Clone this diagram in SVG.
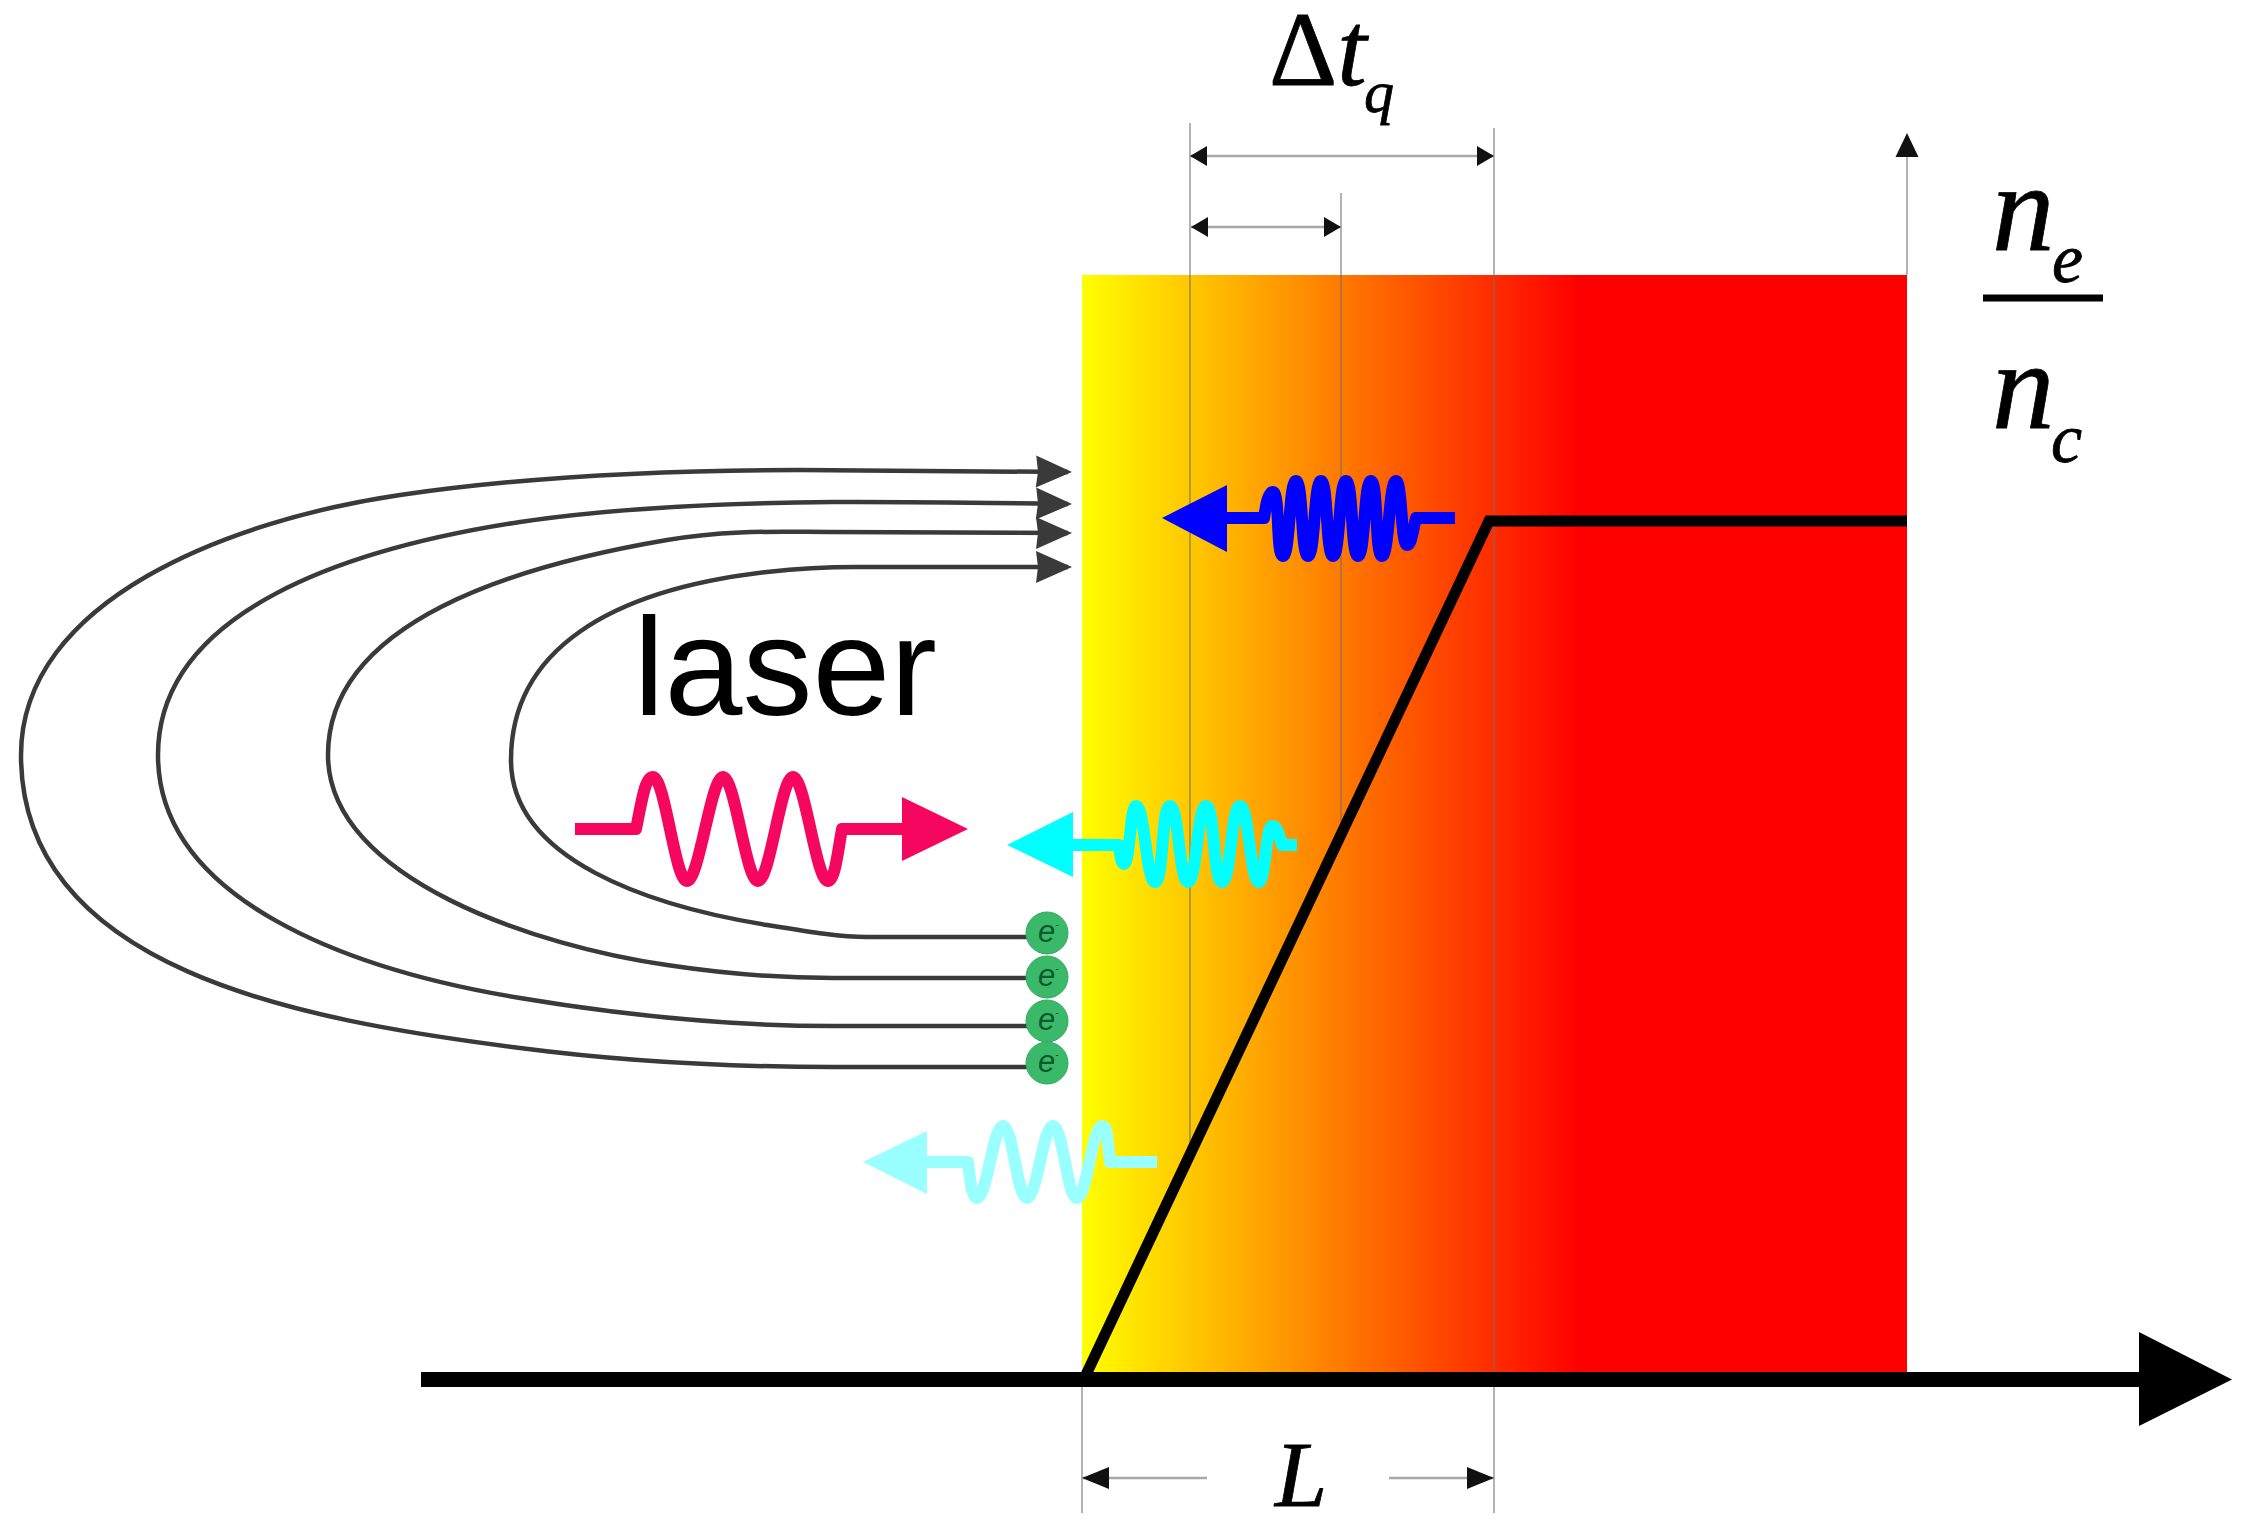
<svg xmlns="http://www.w3.org/2000/svg" width="2257" height="1537" viewBox="0 0 2257 1537">
<style>
.math{font-family:"Liberation Serif","Times New Roman",serif;font-style:italic;fill:#000;stroke:#000;stroke-width:.8}
.up{font-style:normal}
.guide{stroke:#6e6e6e;stroke-opacity:.65;stroke-width:1.6;fill:none}
.dim{stroke:#a8a8a8;stroke-width:2.4;fill:none}
.field{stroke:#3a3a3a;stroke-width:4.5;fill:none;marker-end:url(#fa)}
.wave{fill:none;stroke-width:12;stroke-linejoin:round}
.el{fill:#3bb96a;stroke:#35a860;stroke-width:1}
.elt{font-family:"Liberation Sans",Arial,sans-serif;font-style:italic;font-size:31px;fill:#0b5a2c}
</style>
<defs>
<linearGradient id="g" gradientUnits="userSpaceOnUse" x1="1082" y1="0" x2="1578" y2="0">
<stop offset="0" stop-color="#ffff00"/><stop offset="1" stop-color="#ff0000"/>
</linearGradient>
<marker id="fa" markerUnits="userSpaceOnUse" markerWidth="40" markerHeight="36" refX="32" refY="16" orient="auto" overflow="visible"><path d="M0 0L36 16L0 32L2 16Z" fill="#3a3a3a"/></marker>
<marker id="da" markerUnits="userSpaceOnUse" markerWidth="30" markerHeight="24" refX="17" refY="10" orient="auto-start-reverse" overflow="visible"><path d="M0 0L17 10L0 20Z" fill="#111"/></marker>
<marker id="la" markerUnits="userSpaceOnUse" markerWidth="30" markerHeight="28" refX="27" refY="11" orient="auto-start-reverse" overflow="visible"><path d="M0 0L27 11L0 22Z" fill="#111"/></marker>
</defs>
<rect width="2257" height="1537" fill="#fff"/>
<rect id="plasma" x="1082" y="275" width="825" height="1100" fill="url(#g)"/>

<g id="connectors">
<path class="guide" d="M1190 123V1152M1341 193V834M1494 128V1513M1082 1380V1513"/>
<path class="guide" d="M1907 150V275"/>
<path d="M1907 133L1918.500 157H1895.500Z" fill="#111"/>
<path class="dim" d="M1190 156H1494" marker-start="url(#da)" marker-end="url(#da)"/>
<path class="dim" d="M1191 227H1341" marker-start="url(#da)" marker-end="url(#da)"/>
<path class="dim" d="M1082 1478H1207" marker-start="url(#la)"/>
<path class="dim" d="M1389 1478H1494" marker-end="url(#la)"/>
<path d="M421 1379.500H2140" stroke="#000" stroke-width="15" fill="none"/>
<path d="M2139 1332L2232 1379.500L2139 1426Z" fill="#000"/>
<path d="M1084 1379L1489 521H1907" stroke="#000" stroke-width="11" fill="none" stroke-linejoin="miter"/>
<path class="field" d="M1027 1067H833C730 1067 620 1061 520 1048C300 1020 21 970 21 755C21 600 230 520 400 495C510 479 650 470 800 470C900 470 1000 471 1068 472"/>
<path class="field" d="M1027 1026H833C720 1026 610 1013 520 998C350 970 158 900 158 755C158 610 350 548 520 522C620 507 730 503 833 502C900 501.500 1000 503 1068 504"/>
<path class="field" d="M1027 978H833C780 978 720 973 667 965C540 947 328 880 328 755C328 620 520 565 667 540C730 529.300 780 532 833 532C900 532 1000 533 1068 533"/>
<path class="field" d="M1027 937H867C840 937 810 932 767 925C650 906 511 860 511 760C511 650 610 590 767 572C820 566 850 567 867 567H1068"/>
</g>

<g id="wave-laser">
<path class="wave" stroke="#f5065f" d="M575 829H636C642 800 645 777 653 777C665 777 675 881 687 881C699 881 711 777 723 777C735 777 746 881 758 881C770 881 781 777 793 777C805 777 816 881 828 881C835 881 838 850 842 829H905"/>
<path d="M902 797L968 829L902 861Z" fill="#f5065f"/>
</g>
<g id="wave-cyan">
<path class="wave" stroke="#00ffff" d="M1297 845H1282C1278 830 1276 826 1272 826C1266 826 1265 882 1259 882C1250 882 1249 806 1240 806C1231 806 1231 882 1222 882C1213 882 1215 806 1206 806C1197 806 1197 882 1188 882C1179 882 1179 806 1170 806C1161 806 1164 882 1155 882C1146 882 1145 806 1136 806C1130 806 1130 864 1124 864C1121 864 1120 855 1119 845H1070"/>
<path d="M1073 812L1007 845L1073 877Z" fill="#00ffff"/>
</g>
<g id="wave-blue">
<path class="wave" stroke="#0000ff" d="M1455 518H1416C1412 535 1411 545 1407 545C1401 545 1402 481 1396 481C1389 481 1389 556 1382 556C1375 556 1378 481 1371 481C1364 481 1365 556 1358 556C1351 556 1353 481 1346 481C1339 481 1340 556 1333 556C1326 556 1328 481 1321 481C1314 481 1315 556 1308 556C1301 556 1303 481 1296 481C1289 481 1290 556 1283 556C1276 556 1280 492 1273 492C1268 492 1266 505 1264 518H1225"/>
<path d="M1227 485L1162 518L1227 552Z" fill="#0000ff"/>
</g>
<g id="wave-pale">
<path class="wave" stroke="#99ffff" d="M1157 1162H1110C1107 1140 1108 1126 1102 1126C1092 1126 1087 1198 1077 1198C1067 1198 1063 1126 1053 1126C1043 1126 1037 1198 1027 1198C1017 1198 1013 1126 1003 1126C993 1126 987 1198 977 1198C972 1198 970 1180 968 1162H925"/>
<path d="M927 1131L863 1162L927 1194Z" fill="#99ffff"/>
</g>

<g id="electron-1"><circle class="el" cx="1047" cy="933" r="21"/><text class="elt" x="1038" y="942">e<tspan font-size="10" dy="-14">-</tspan></text></g>
<g id="electron-2"><circle class="el" cx="1047" cy="977" r="21"/><text class="elt" x="1038" y="986">e<tspan font-size="10" dy="-14">-</tspan></text></g>
<g id="electron-3"><circle class="el" cx="1047" cy="1021" r="21"/><text class="elt" x="1038" y="1030">e<tspan font-size="10" dy="-14">-</tspan></text></g>
<g id="electron-4"><circle class="el" cx="1047" cy="1063" r="21"/><text class="elt" x="1038" y="1072">e<tspan font-size="10" dy="-14">-</tspan></text></g>

<g id="label-laser"><text x="633.500" y="715" font-family="'Liberation Sans',Arial,sans-serif" font-size="140" fill="#000">laser</text></g>
<g id="label-dtq">
<text class="math" x="1269" y="85" font-size="106"><tspan class="up">Δ</tspan>t</text>
<text class="math" x="1364" y="112" font-size="60">q</text>
</g>
<g id="label-ratio">
<text class="math" x="1992" y="250" font-size="125">n</text>
<text class="math" x="2052" y="282" font-size="70">e</text>
<rect x="1983" y="294.500" width="120" height="7" fill="#000"/>
<text class="math" x="1992" y="428" font-size="125">n</text>
<text class="math" x="2051" y="462" font-size="70">c</text>
</g>
<g id="label-L"><text class="math" x="1275" y="1506" font-size="94">L</text></g>
</svg>
